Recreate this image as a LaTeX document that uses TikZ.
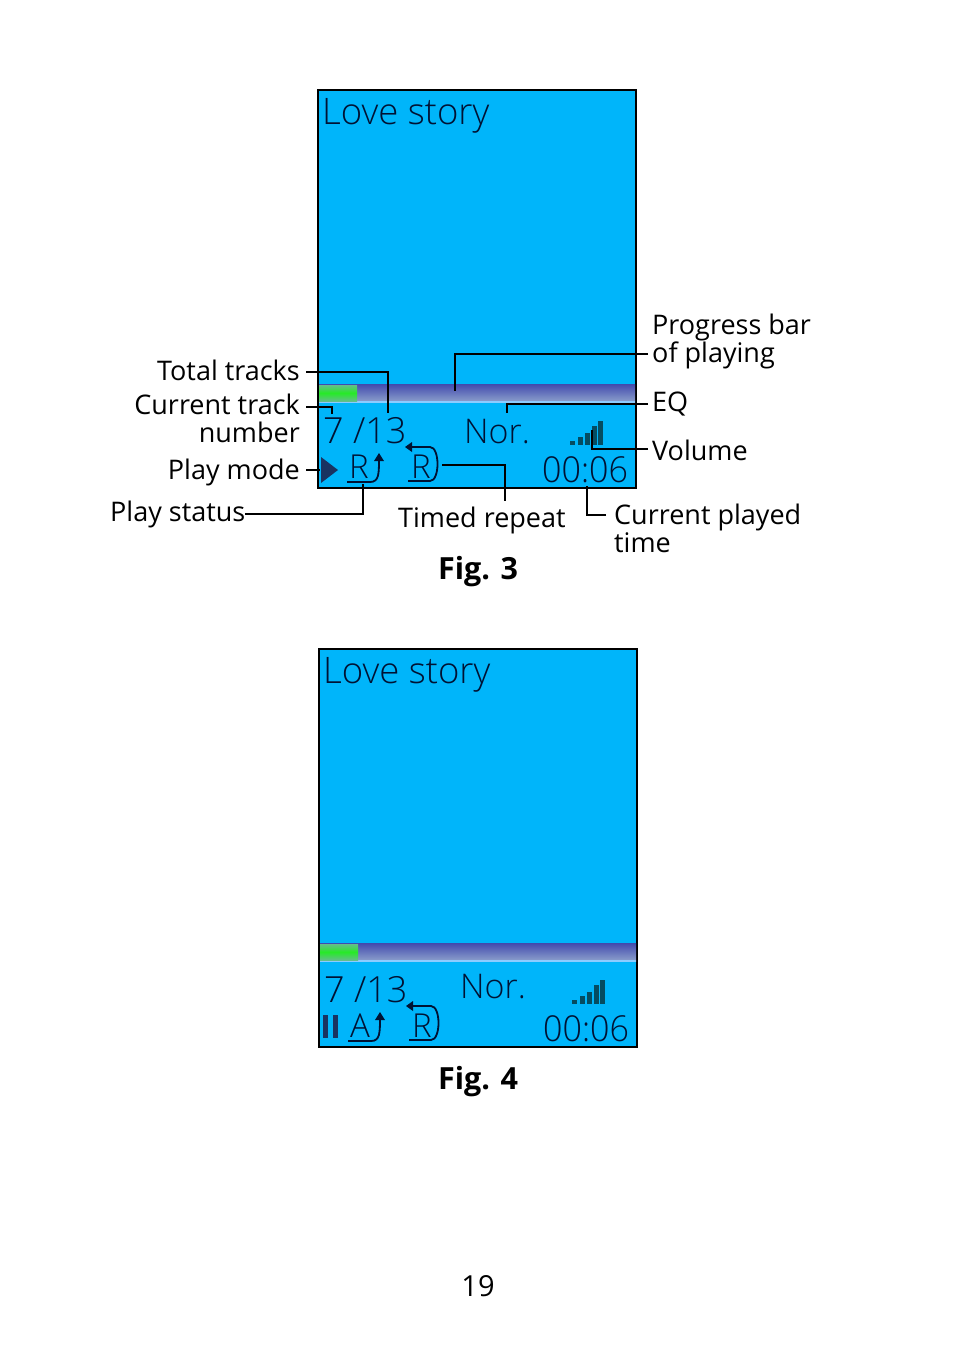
\documentclass[tikz,border=0pt]{standalone}
\usepackage{xcolor}
\usepackage{fontspec}
\usetikzlibrary{positioning, calc}
\setmainfont{Open Sans}
\newfontfamily\lcdfont{Open Sans Light}
\definecolor{screenblue}{rgb}{0, 0.71, 0.98}
\definecolor{lcdink}{rgb}{0.0, 0.07, 0.20}
\definecolor{triangleink}{rgb}{0.10, 0.20, 0.38}
\definecolor{bardark}{rgb}{0.26, 0.29, 0.68}
\definecolor{barlight}{rgb}{0.55, 0.63, 0.80}
\definecolor{barline}{rgb}{0.55, 0.80, 1}
\definecolor{playgreen}{rgb}{0.15, 0.92, 0.15}
\definecolor{signalink}{rgb}{0.02, 0.30, 0.38}
\tikzset{
	callout/.style={font=\fontsize{27}{27.4}\selectfont, inner sep=0pt, black},
	caption/.style={font=\fontsize{30.5}{31}\selectfont\bfseries, inner sep=0pt, black},
	leader/.style={black, line width=2pt},
	lcdtext/.style={text=lcdink, inner sep=0pt, anchor=base west},
	lcdicon/.style={lcdink, line width=1.8pt}
}
% one player screen, frame corner at (318,90)
\newcommand{\playerscreen}{
	\draw[black, line width=2.5pt, fill=screenblue] (318,90) rectangle (636,488);
	\shade[top color=bardark, bottom color=barlight] (319,384) rectangle (635,402);
	\fill[barline] (319,401) rectangle (635,403);
	\shade[top color=barlight!60!playgreen, bottom color=barlight!60!playgreen, middle color=playgreen] (319,385) rectangle (357,401);
	\node[lcdtext, font=\lcdfont\fontsize{36.5}{36.5}\selectfont] (title) at (322,124) {Love story};
	\node[lcdtext, font=\lcdfont\fontsize{36}{36}\selectfont] (track) at (323,443) {7 /13};
	\node[lcdtext, font=\lcdfont\fontsize{34}{34}\selectfont, yscale=1.05] (clock) at (542,482) {00:06};
	% return arrow and boxed R
	\node[lcdtext, font=\lcdfont\fontsize{33}{33}\selectfont] (timer) at (411,478) {R};
	\draw[lcdicon] (408,481) -- (430,481) .. controls (440,481) and (440,447) .. (430,447) -- (410,447);
	\fill[lcdink] (405,447) -- (412,442) -- (412,452) -- cycle;
}
% signal bars, from their left edge
\newcommand{\signalbars}[2]{
	\foreach \barx/\bartop in {0/4, 7.5/8, 15/12, 22/19, 28/24}
		\fill[signalink] (#1+\barx,#2) rectangle ++(5,-\bartop);
}
\begin{document}
\begin{tikzpicture}[x=1pt, y=-1pt]
	\useasboundingbox (0,0) rectangle (954,1355);

	%% Fig. 3
	\begin{scope}[name prefix=a-]
		\playerscreen
		\node[lcdtext, font=\lcdfont\fontsize{34}{34}\selectfont] (eq) at (464,443) {Nor.};
		\signalbars{570}{445}
		\fill[triangleink] (321,457) -- (338,470) -- (321,483) -- cycle;
		\node[lcdtext, font=\lcdfont\fontsize{33}{33}\selectfont] (mode) at (349,478) {R};
		\draw[lcdicon] (347,482) -- (370,482) .. controls (379,482) and (379,474) .. (379,458);
		\fill[lcdink] (379,453) -- (384,461) -- (374,461) -- cycle;
	\end{scope}
	\coordinate (totalstart) at (306,372);
	\coordinate (totalend) at (388,413);
	\coordinate (currentstart) at (306,407);
	\coordinate (currentend) at (332,414);
	\coordinate (modestart) at (306,470);
	\coordinate (modeend) at (320,470);
	\coordinate (statusstart) at (245,514);
	\coordinate (statusend) at (363,484);
	\coordinate (barstart) at (648,354);
	\coordinate (barend) at (455,391);
	\coordinate (eqstart) at (648,404);
	\coordinate (eqend) at (507,413);
	\coordinate (volstart) at (648,449);
	\coordinate (volend) at (592,430);
	\coordinate (repeatstart) at (442,465);
	\coordinate (repeatend) at (505,501);
	\coordinate (playedstart) at (606,515);
	\coordinate (playedend) at (587,486);

	\node[callout, anchor=base east] (total) at (300,380) {Total tracks};
	\node[callout, anchor=north east, align=right] (current) at (300,394) {Current track\\number};
	\node[callout, anchor=base east] (mode) at (300,479) {Play mode};
	\node[callout, anchor=base west] (status) at (110,521) {Play status};
	\node[callout, anchor=north west, align=left] (progress) at (652,314) {Progress bar\\of playing};
	\node[callout, anchor=base west] (eqlabel) at (652,411) {EQ};
	\node[callout, anchor=base west] (volume) at (652,460) {Volume};
	\node[callout, anchor=base west] (timed) at (398,527) {Timed repeat};
	\node[callout, anchor=north west, align=left] (played) at (614,504) {Current played\\time};
	\node[caption, anchor=base] (figa) at (478,579) {Fig. 3};

	\draw[leader] (totalstart) -| (totalend);
	\draw[leader] (currentstart) -| (currentend);
	\draw[leader] (modestart) -- (modeend);
	\draw[leader] (statusstart) -| (statusend);
	\draw[leader] (barstart) -| (barend);
	\draw[leader] (eqstart) -| (eqend);
	\draw[leader] (volstart) -| (volend);
	\draw[leader] (repeatstart) -| (repeatend);
	\draw[leader] (playedstart) -| (playedend);

	%% Fig. 4
	\begin{scope}[shift={(1,559)}, name prefix=b-]
		\playerscreen
		\node[lcdtext, font=\lcdfont\fontsize{34}{34}\selectfont] (eq) at (459,439) {Nor.};
		\signalbars{571}{445}
		\fill[triangleink] (322,456) rectangle ++(5,23);
		\fill[triangleink] (332,456) rectangle ++(5,23);
		\node[lcdtext, font=\lcdfont\fontsize{33}{33}\selectfont] (mode) at (349,478) {A};
		\draw[lcdicon] (347,482) -- (370,482) .. controls (379,482) and (379,474) .. (379,458);
		\fill[lcdink] (379,453) -- (384,461) -- (374,461) -- cycle;
	\end{scope}
	\node[caption, anchor=base] (figb) at (478,1089) {Fig. 4};

	\node[font=\fontsize{29}{30}\selectfont, inner sep=0pt, anchor=base] (pagenum) at (478,1296) {19};
\end{tikzpicture}
\end{document}
